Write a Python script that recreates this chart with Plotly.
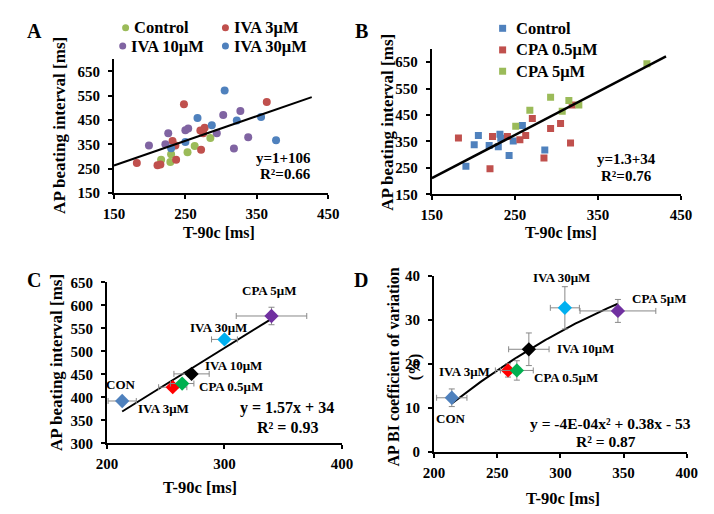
import numpy as np
import plotly.graph_objects as go

W, H = 714, 514
SERIF = "Liberation Serif"

# ---- panel A: ivabradine, single cells ----
a_ctrl_x = [216, 229, 230, 253, 263, 285]
a_ctrl_y = [287, 277, 309, 317, 343, 376]
a_iva3_x = [182, 211, 215, 237, 232, 236, 248, 272, 271, 277, 275, 364]
a_iva3_y = [273, 264, 267, 287, 364, 345, 515, 328, 407, 418, 395, 524]
a_iva10_x = [199, 222, 226, 250, 254, 294, 303, 327, 318, 338]
a_iva10_y = [345, 350, 395, 408, 415, 395, 470, 487, 333, 379]
a_iva30_x = [230, 250, 267, 287, 305, 322, 356, 377]
a_iva30_y = [334, 360, 458, 428, 571, 448, 462, 367]
a_line_x = [150, 427]
a_line_y = [263, 544]

# ---- panel B: CPA, single cells ----
b_ctrl_x = [191, 201, 206, 219, 230, 232, 233, 243, 248, 259, 286]
b_ctrl_y = [256, 337, 372, 335, 330, 377, 362, 297, 352, 410, 318]
b_cpa05_x = [182, 220, 223, 241, 256, 263, 271, 285, 293, 305, 317, 319]
b_cpa05_y = [363, 247, 369, 369, 356, 372, 437, 287, 399, 418, 344, 488]
b_cpa5_x = [251, 268, 293, 307, 315, 327, 409]
b_cpa5_y = [407, 468, 517, 464, 505, 488, 644]
b_line_x = [150, 432]
b_line_y = [211, 672]

ab_xticks = [150, 250, 350, 450]
ab_yticks = [150, 250, 350, 450, 550, 650]

# ---- panels C, D: group means +- SEM ----
groups = ["CON", "IVA 3μM", "CPA 0.5μM", "IVA 10μM", "IVA 30μM", "CPA 5μM"]
group_colors = ["#4F81BD", "#FF0000", "#00B050", "#000000", "#00B0F0", "#7030A0"]
c_x = [213, 256, 264, 272, 300, 340]
c_xerr = [12, 12, 10, 15, 11, 30]
c_y = [392, 422, 430, 451, 526, 577]
c_yerr = [4, 4, 5, 6, 5, 19]
d_x = [214, 258.5, 265.5, 275, 303.5, 345.5]
d_xerr = [12, 10, 13, 16, 11.5, 30]
d_y = [12.3, 18.5, 18.5, 23.3, 32.7, 32.0]
d_yerr = [2, 1.5, 2.2, 3.7, 4.8, 2.6]


def px(x):
    return x / W


def py(y):
    return 1 - y / H


fig = go.Figure()


def dots(x, y, color, symbol, xa, ya, size=8):
    fig.add_trace(go.Scatter(
        x=x, y=y, mode="markers", xaxis=xa, yaxis=ya, showlegend=False,
        marker=dict(color=color, symbol=symbol, size=size, line=dict(width=0)),
    ))


# A
dots(a_ctrl_x, a_ctrl_y, "#9BBB59", "circle", "x", "y")
dots(a_iva3_x, a_iva3_y, "#C0504D", "circle", "x", "y")
dots(a_iva10_x, a_iva10_y, "#8064A2", "circle", "x", "y")
dots(a_iva30_x, a_iva30_y, "#4F81BD", "circle", "x", "y")
fig.add_trace(go.Scatter(x=a_line_x, y=a_line_y, mode="lines", xaxis="x", yaxis="y",
                         line=dict(color="black", width=2), showlegend=False))

# B
dots(b_ctrl_x, b_ctrl_y, "#4F81BD", "square", "x2", "y2", 7)
dots(b_cpa05_x, b_cpa05_y, "#C0504D", "square", "x2", "y2", 7)
dots(b_cpa5_x, b_cpa5_y, "#9BBB59", "square", "x2", "y2", 7)
fig.add_trace(go.Scatter(x=b_line_x, y=b_line_y, mode="lines", xaxis="x2", yaxis="y2",
                         line=dict(color="black", width=2.5), showlegend=False))

# C: linear trend of the group means
c_fit = np.polyfit(c_x, c_y, 1)
c_lx = np.linspace(min(c_x), max(c_x), 2)
fig.add_trace(go.Scatter(x=c_lx, y=np.polyval(c_fit, c_lx), mode="lines", xaxis="x3", yaxis="y3",
                         line=dict(color="black", width=2), showlegend=False))
# D: 2nd order trend
d_fit = np.polyfit(d_x, d_y, 2)
d_lx = np.linspace(min(d_x), max(d_x), 60)
fig.add_trace(go.Scatter(x=d_lx, y=np.polyval(d_fit, d_lx), mode="lines", xaxis="x4", yaxis="y4",
                         line=dict(color="black", width=2), showlegend=False))

for i, g in enumerate(groups):
    for (xs, xe, ys, ye, xa, ya) in [(c_x, c_xerr, c_y, c_yerr, "x3", "y3"),
                                     (d_x, d_xerr, d_y, d_yerr, "x4", "y4")]:
        fig.add_trace(go.Scatter(
            x=[xs[i]], y=[ys[i]], mode="markers", xaxis=xa, yaxis=ya, name=g, showlegend=False,
            marker=dict(symbol="diamond", size=11, color=group_colors[i]),
            error_x=dict(type="data", array=[xe[i]], color="#888888", thickness=1, width=3),
            error_y=dict(type="data", array=[ye[i]], color="#888888", thickness=1, width=3),
        ))

axis_common = dict(
    showline=True, linecolor="black", linewidth=2, ticks="outside", ticklen=4,
    tickwidth=1.5, tickcolor="black", showgrid=False, zeroline=False,
    tickfont=dict(family=SERIF, size=15, color="black", weight="bold"),
)
xa_common = dict(axis_common, ticklabelstandoff=2)
ya_common = dict(axis_common, ticklabelstandoff=5)

fig.update_layout(
    width=W, height=H, margin=dict(l=0, r=0, t=0, b=0),
    plot_bgcolor="white", paper_bgcolor="white", showlegend=False,
    xaxis=dict(xa_common, domain=[px(98), px(319)], range=[150, 450], tickvals=ab_xticks, anchor="y"),
    yaxis=dict(ya_common, domain=[py(182.7), py(44.5)], range=[150, 700], tickvals=ab_yticks, anchor="x"),
    xaxis2=dict(xa_common, domain=[px(426), px(683)], range=[150, 450], tickvals=ab_xticks, anchor="y2"),
    yaxis2=dict(ya_common, domain=[py(184), py(34)], range=[150, 700], tickvals=ab_yticks, anchor="x2"),
    xaxis3=dict(xa_common, domain=[px(90.7), px(333.3)], range=[200, 400], dtick=100, anchor="y3"),
    yaxis3=dict(ya_common, domain=[py(441), py(275)], range=[300, 650], dtick=50, anchor="x3"),
    xaxis4=dict(xa_common, domain=[px(428.3), px(689)], range=[200, 400], dtick=50, anchor="y4"),
    yaxis4=dict(ya_common, domain=[py(450), py(268)], range=[0, 40], dtick=10, anchor="x4"),
)


def note(x, y, text, size=14, angle=0, anchor="center", bold=True):
    fig.add_annotation(
        x=px(x), y=py(y), xref="paper", yref="paper", text=text, showarrow=False,
        xanchor=anchor, yanchor="middle", textangle=angle,
        font=dict(family=SERIF, size=size, color="black", weight="bold" if bold else "normal"),
    )


# panel letters
note(16.5, 15, "A", 20)
note(353, 15, "B", 20)
note(15, 272, "C", 20)
note(352.5, 272, "D", 20)

# axis titles
note(41.7, 113, "AP beating interval [ms]", 17, -90)
note(206.7, 223, "T-90c [ms]", 16)
note(380, 110, "AP beating interval [ms]", 17, -90)
note(559, 223, "T-90c [ms]", 16)
note(39.3, 358, "AP beating interval [ms]", 17, -90)
note(186.7, 487, "T-90c [ms]", 16.5)
note(398, 362, "AP BI coefficient of variation<br>(%)", 16, -90)
note(561.7, 498, "T-90c [ms]", 16.5)

# legends A and B (drawn by hand to keep the 2x2 / stacked layout)
legend_a = [("Control", "#9BBB59", 110, 12), ("IVA 3μM", "#C0504D", 213, 12),
            ("IVA 10μM", "#8064A2", 107, 31), ("IVA 30μM", "#4F81BD", 213, 31)]
for label, col, x, y in legend_a:
    fig.add_shape(type="circle", xref="paper", yref="paper", xsizemode="pixel", ysizemode="pixel",
                  xanchor=px(x), yanchor=py(y), x0=-3.5, x1=3.5, y0=-3.5, y1=3.5,
                  fillcolor=col, line=dict(width=0))
    note(x + 7, y, label, 16.5, anchor="left")
legend_b = [("Control", "#4F81BD", 499, 12.7), ("CPA 0.5μM", "#C0504D", 499, 35),
            ("CPA 5μM", "#9BBB59", 499, 57)]
for label, col, x, y in legend_b:
    fig.add_shape(type="rect", xref="paper", yref="paper", xsizemode="pixel", ysizemode="pixel",
                  xanchor=px(x), yanchor=py(y), x0=-3.5, x1=3.5, y0=-3.5, y1=3.5,
                  fillcolor=col, line=dict(width=0))
    note(x + 12, y, label, 16.5, anchor="left")

# fit labels
note(303, 147, "y=1+106", 15, anchor="right")
note(303, 163, "R²=0.66", 15, anchor="right")
note(659, 148, "y=1.3+34", 15, anchor="right")
note(655, 165, "R²=0.76", 15, anchor="right")
note(276.7, 405, "y = 1.57x + 34", 16)
note(276.7, 425, "R² = 0.93", 16)
note(610, 421, "y = -4E-04x² + 0.38x - 53", 15.5)
note(605.7, 439, "R² = 0.87", 15.5)

# group labels C
note(257.7, 283, "CPA 5μM", 13)
note(205.7, 321, "IVA 30μM", 13)
note(221.7, 361, "IVA 10μM", 13)
note(218.3, 382, "CPA 0.5μM", 13)
note(105, 380, "CON", 13)
note(149.3, 405.3, "IVA 3μM", 13)
# group labels D
note(560, 270, "IVA 30μM", 13)
note(660, 291.7, "CPA 5μM", 13)
note(584.3, 343.3, "IVA 10μM", 13)
note(460, 367.3, "IVA 3μM", 13)
note(564.3, 372.7, "CPA 0.5μM", 13)
note(445.7, 415, "CON", 13)

fig.write_html("out.html")
